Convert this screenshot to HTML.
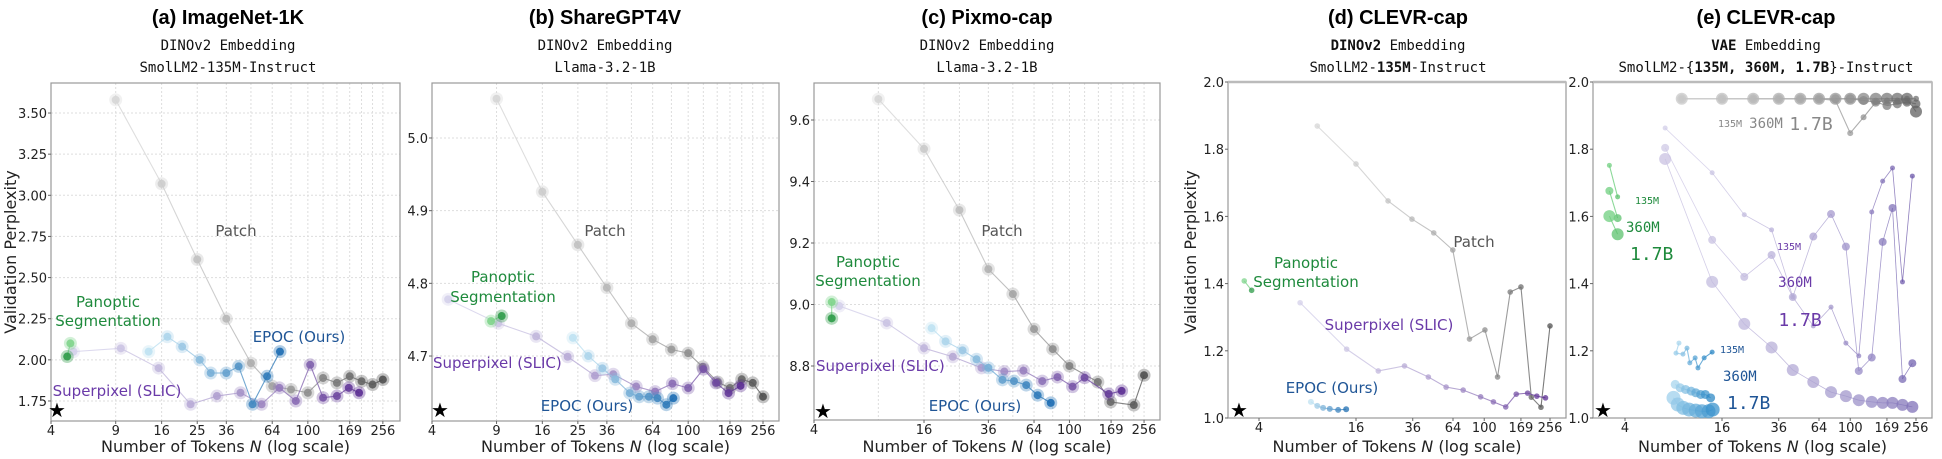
<!DOCTYPE html>
<html><head><meta charset="utf-8">
<style>
html,body{margin:0;padding:0;background:#fff;}
svg{display:block;}
.title{font-family:"Liberation Sans",sans-serif;font-weight:bold;font-size:20px;fill:#000;}
.sub{font-family:"DejaVu Sans Mono","Liberation Mono",monospace;font-size:14px;fill:#111;}
.tick{font-family:"DejaVu Sans","Liberation Sans",sans-serif;font-size:13px;fill:#222;}
.axl{font-family:"DejaVu Sans","Liberation Sans",sans-serif;font-size:16px;fill:#222;}
.lab{font-family:"DejaVu Sans","Liberation Sans",sans-serif;font-size:15px;}
.mono{font-family:"DejaVu Sans Mono","Liberation Mono",monospace;}
</style></head>
<body>
<svg id="fig" width="1942" height="459" viewBox="0 0 1942 459" xmlns="http://www.w3.org/2000/svg">
<text class="title" x="228" y="24" text-anchor="middle">(a) ImageNet-1K</text>
<text class="sub" x="228" y="50" text-anchor="middle">DINOv2 Embedding</text>
<text class="sub" x="228" y="72" text-anchor="middle">SmolLM2-135M-Instruct</text>
<text class="title" x="605" y="24" text-anchor="middle">(b) ShareGPT4V</text>
<text class="sub" x="605" y="50" text-anchor="middle">DINOv2 Embedding</text>
<text class="sub" x="605" y="72" text-anchor="middle">Llama-3.2-1B</text>
<text class="title" x="987" y="24" text-anchor="middle">(c) Pixmo-cap</text>
<text class="sub" x="987" y="50" text-anchor="middle">DINOv2 Embedding</text>
<text class="sub" x="987" y="72" text-anchor="middle">Llama-3.2-1B</text>
<text class="title" x="1398" y="24" text-anchor="middle">(d) CLEVR-cap</text>
<text class="sub" x="1398" y="50" text-anchor="middle"><tspan font-weight="bold">DINOv2</tspan> Embedding</text>
<text class="sub" x="1398" y="72" text-anchor="middle">SmolLM2-<tspan font-weight="bold">135M</tspan>-Instruct</text>
<text class="title" x="1766" y="24" text-anchor="middle">(e) CLEVR-cap</text>
<text class="sub" x="1766" y="50" text-anchor="middle"><tspan font-weight="bold">VAE</tspan> Embedding</text>
<text class="sub" x="1766" y="72" text-anchor="middle">SmolLM2-{<tspan font-weight="bold">135M, 360M, 1.7B</tspan>}-Instruct</text>
</svg>
<script>
// ---------- data ----------
const aPatchN=[9,16,25,36,49,64,81,100,121,144,169,196,225,256];
const aPatchV=[3.58,3.07,2.61,2.25,1.98,1.84,1.82,1.80,1.89,1.86,1.90,1.87,1.85,1.88];
const aSlicN=[5.3,9.6,15.4,23,32,43,56,70,86,103,121,144,167,190];
const aSlicV=[2.05,2.07,1.95,1.73,1.78,1.80,1.73,1.83,1.75,1.97,1.77,1.78,1.83,1.80];
const aEpocN=[13.6,17.2,20.7,25.8,29.6,36,42,50,60,70.5];
const aEpocV=[2.05,2.14,2.08,2.00,1.92,1.92,1.96,1.73,1.90,2.05];
const aPanN=[5.1,4.9];
const aPanV=[2.10,2.02];

const bPatchN=[9,16,25,36,49,64,81,100,120,145,169,196,225,256];
const bPatchV=[5.054,4.926,4.853,4.794,4.745,4.723,4.709,4.704,4.685,4.664,4.656,4.668,4.663,4.644];
const bSlicN=[4.9,9.2,14.8,22,31,39,52,66,82,100,121,142,166,193];
const bSlicV=[4.778,4.745,4.727,4.699,4.673,4.675,4.658,4.651,4.662,4.656,4.682,4.663,4.649,4.659];
const bEpocN=[23.5,28.5,34,40,48,54,61,68,76,83];
const bEpocV=[4.725,4.700,4.683,4.668,4.649,4.644,4.644,4.642,4.633,4.642];
const bPanN=[8.4,9.6];
const bPanV=[4.748,4.755];

const cPatchN=[9,16,25,36,49,64,81,100,143,168,225,256];
const cPatchV=[9.668,9.506,9.307,9.115,9.034,8.92,8.855,8.80,8.748,8.683,8.673,8.77];
const cSlicN=[5.5,10,16,23,33,44,56,71,86,104,121,164,193];
const cSlicV=[8.995,8.94,8.858,8.83,8.794,8.782,8.785,8.751,8.764,8.733,8.762,8.709,8.719];
const cEpocN=[17.6,21,26,31,36,43,49.7,58,67,79];
const cEpocV=[8.923,8.88,8.851,8.822,8.794,8.755,8.751,8.738,8.705,8.68];
const cPanN=[5.0,5.0];
const cPanV=[9.008,8.955];

const dPatchN=[9.2,16,25.3,35.6,48.6,63.8,81,101,121,145,169,196,225,256];
const dPatchV=[1.869,1.756,1.646,1.592,1.551,1.50,1.235,1.262,1.122,1.375,1.39,1.062,1.032,1.274];
const dSlicN=[7.2,14,22,32,45,58,74,95,114,136,158,186,212,240];
const dSlicV=[1.343,1.205,1.14,1.155,1.122,1.092,1.083,1.063,1.048,1.033,1.071,1.074,1.065,1.06];
const dEpocN=[8.4,9.2,10,11,12.4,13.9];
const dEpocV=[1.048,1.036,1.03,1.027,1.024,1.026];
const dPanN=[3.24,3.6];
const dPanV=[1.408,1.38];

const ePatchN=[9,16,25,36,49,64,81,100,121,144,169,196,225,256];
const ePatch135V=[1.95,1.95,1.95,1.95,1.95,1.95,1.945,1.848,1.895,1.94,1.945,1.945,1.95,1.95];
const ePatch360V=[1.95,1.95,1.95,1.95,1.95,1.95,1.95,1.95,1.945,1.94,1.93,1.935,1.94,1.935];
const ePatch17V=[1.95,1.95,1.95,1.95,1.95,1.95,1.95,1.95,1.95,1.95,1.95,1.95,1.95,1.912];
const eSlicN=[7.1,13.9,22,32.5,44,59,76,94,113,136,159,183,211,243];
const eSlic135V=[1.863,1.73,1.605,1.56,1.36,1.274,1.33,1.223,1.185,1.613,1.705,1.744,1.405,1.72];
const eSlic360V=[1.804,1.53,1.42,1.485,1.36,1.54,1.607,1.51,1.14,1.18,1.524,1.625,1.116,1.163];
const eSlic17V=[1.771,1.405,1.28,1.21,1.143,1.107,1.077,1.065,1.053,1.048,1.045,1.045,1.039,1.033];
const eEpoc135N=[8.65,8.29,9.16,9.7,10.1,10.9,11.35,12.4,13.9];
const eEpoc135V=[1.223,1.193,1.19,1.208,1.164,1.179,1.149,1.179,1.196];
const eEpoc360N=[8.2,8.8,9.5,10.3,11,11.8,12.6,13.6];
const eEpoc360V=[1.1,1.09,1.085,1.08,1.075,1.07,1.07,1.06];
const eEpoc17N=[8,8.5,9.2,10,11,12,13.2,14];
const eEpoc17V=[1.06,1.04,1.03,1.025,1.022,1.02,1.02,1.025];
const ePan135N=[3.2,3.6], ePan135V=[1.752,1.658];
const ePan360N=[3.2,3.6], ePan360V=[1.676,1.595];
const ePan17N=[3.2,3.6], ePan17V=[1.601,1.547];

const xTicksABC=[4,9,16,25,36,64,100,169,256];
const xTicksC=[4,16,36,64,100,169,256];
const xTicksDE=[4,16,36,64,100,169,256];
const xGridN=[4,9,16,25,36,49,64,81,100,121,144,169,196,225,256];
const aYTicks=[1.75,2.00,2.25,2.50,2.75,3.00,3.25,3.50];
const bYTicks=[4.7,4.8,4.9,5.0];
const cYTicks=[8.8,9.0,9.2,9.4,9.6];
const deYTicks=[1.0,1.2,1.4,1.6,1.8,2.0];

// ---------- drawing ----------
const svg=document.getElementById('fig');
const NS='http://www.w3.org/2000/svg';
function mk(tag,attrs,parent){const e=document.createElementNS(NS,tag);for(const k in attrs)e.setAttribute(k,attrs[k]);(parent||svg).appendChild(e);return e;}
function hex(c){return [parseInt(c.slice(1,3),16),parseInt(c.slice(3,5),16),parseInt(c.slice(5,7),16)];}
function lerp(c0,c1,t){const a=hex(c0),b=hex(c1);return 'rgb('+a.map((v,i)=>Math.round(v+(b[i]-v)*t)).join(',')+')';}

function panel(p){
  p.x=n=>p.L+(Math.log2(n)-p.lx0)/(p.lx1-p.lx0)*(p.R-p.L);
  p.y=v=>p.B-(v-p.y0)/(p.y1-p.y0)*(p.B-p.T);
  const g=mk('g',{});
  
  
  p.g=g;
  if(p.grid){
    xGridN.forEach(n=>{const l=mk('line',{x1:p.x(n),x2:p.x(n),y1:p.T,y2:p.B,stroke:'#ddd','stroke-width':1,'stroke-dasharray':'2,2'},g);
      });
    p.yt.forEach(v=>{const l=mk('line',{x1:p.L,x2:p.R,y1:p.y(v),y2:p.y(v),stroke:'#ddd','stroke-width':1,'stroke-dasharray':'2,2'},g);
      });
  }
  const fr=mk('rect',{x:p.L,y:p.T,width:p.R-p.L,height:p.B-p.T,fill:'none',stroke:'#999','stroke-width':1.2},g);
  
  if(p.topBar){const tb=mk('line',{x1:p.L,x2:p.R,y1:p.T,y2:p.T,stroke:'#bbb','stroke-width':2.5},g);
    }
  p.xt.forEach(n=>{const t=mk('text',{x:p.x(n),y:p.B+14,'text-anchor':'middle',class:'tick'},g);t.textContent=n;
    
    mk('line',{x1:p.x(n),x2:p.x(n),y1:p.B,y2:p.B+3,stroke:'#666'},g);});
  p.yt.forEach(v=>{const t=mk('text',{x:p.L-4,y:p.y(v)+5,'text-anchor':'end',class:'tick'},g);t.textContent=v.toFixed(p.dec);
    
    mk('line',{x1:p.L-3,x2:p.L,y1:p.y(v),y2:p.y(v),stroke:'#666'},g);});
  const xl=mk('text',{x:(p.L+p.R)/2,y:452,'text-anchor':'middle',class:'axl'},g);
  xl.innerHTML='Number of Tokens <tspan font-style="italic">N</tspan> (log scale)';
  
  if(p.ylab){const yl=mk('text',{x:0,y:0,'text-anchor':'middle',class:'axl',transform:'translate('+p.ylab+',252) rotate(-90)'},g);
    yl.textContent='Validation Perplexity';}
  const st=mk('text',{x:p.star[0],y:p.star[1]+7,'text-anchor':'middle','font-size':20,fill:'#000'},g);st.textContent='★';
  
  return p;
}
function series(p,name,N,V,c0,c1,r,halo,lw){
  const g=mk('g',{},p.g);
  
  
  for(let i=0;i<N.length-1;i++){
    const t=N.length>1?i/(N.length-1):0;
    mk('line',{x1:p.x(N[i]),y1:p.y(V[i]),x2:p.x(N[i+1]),y2:p.y(V[i+1]),stroke:lerp(c0,c1,t),'stroke-width':lw||1.1,opacity:0.8},g);
  }
  N.forEach((n,i)=>{
    const t=N.length>1?i/(N.length-1):0, col=lerp(c0,c1,t);
    if(halo){const h=mk('circle',{cx:p.x(n),cy:p.y(V[i]),r:r+2.5,fill:col,opacity:0.35},g);
      }
    const c=mk('circle',{cx:p.x(n),cy:p.y(V[i]),r:r,fill:col,opacity:halo?0.9:0.75},g);
    
  });
}
function label(p,txt,x,y,col,size,anchor,cls,name){
  const t=mk('text',{x:x,y:y,'text-anchor':anchor||'middle',class:cls||'lab',fill:col,'font-size':size||15},p.g);
  t.textContent=txt;
}
const GR0='#d6d6d6',GR1='#505050',PU0='#d4d0ea',PU1='#5b2e92',BL0='#bfe2f2',BL1='#1d6db2',GN0='#7fd48c',GN1='#2e9b48';
const cGreen='#1e8a3c',cPurple='#6a3aa8',cBlue='#1f5596',cGray='#555';

const A=panel({id:'a',L:51,R:400,T:83,B:421,lx0:2,lx1:8.31,y0:1.75-(421-401)/164.4,y1:3.5+(113-83)/164.4,xt:xTicksABC,yt:aYTicks,dec:2,grid:true,ylab:16,star:[57,410]});
series(A,'patch-series',aPatchN,aPatchV,GR0,GR1,4,true);
series(A,'superpixel-series',aSlicN,aSlicV,PU0,PU1,4,true);
series(A,'epoc-series',aEpocN,aEpocV,BL0,BL1,4,true);
series(A,'panoptic-series',aPanN,aPanV,GN0,GN1,4,true);
label(A,'Patch',236,236,cGray,17,'middle',null,'patch-label');
label(A,'Panoptic',108,307,cGreen,16,'middle',null,'panoptic-label');
label(A,'Segmentation',108,326,cGreen,16,'middle',null,'panoptic-label-2');
label(A,'EPOC (Ours)',299,342,cBlue,16,'middle',null,'epoc-label');
label(A,'Superpixel (SLIC)',117,396,cPurple,16,'middle',null,'superpixel-label');

const B=panel({id:'b',L:432,R:779,T:83,B:421,lx0:2,lx1:8.29,y0:4.7-(421-356)/727,y1:5.0+(138-83)/727,xt:xTicksABC,yt:bYTicks,dec:1,grid:true,star:[440,410]});
series(B,'patch-series',bPatchN,bPatchV,GR0,GR1,4,true);
series(B,'superpixel-series',bSlicN,bSlicV,PU0,PU1,4,true);
series(B,'epoc-series',bEpocN,bEpocV,BL0,BL1,4,true);
series(B,'panoptic-series',bPanN,bPanV,GN0,GN1,4,true);
label(B,'Patch',605,236,cGray,17,'middle',null,'patch-label');
label(B,'Panoptic',503,282,cGreen,16,'middle',null,'panoptic-label');
label(B,'Segmentation',503,302,cGreen,16,'middle',null,'panoptic-label-2');
label(B,'Superpixel (SLIC)',433,368,cPurple,16,'start',null,'superpixel-label');
label(B,'EPOC (Ours)',587,411,cBlue,16,'middle',null,'epoc-label');

const C=panel({id:'c',L:814,R:1160,T:83,B:420,lx0:2,lx1:8.29,y0:8.8-(420-366)/307.5,y1:9.6+(120-83)/307.5,xt:xTicksC,yt:cYTicks,dec:1,grid:true,star:[823,411]});
series(C,'patch-series',cPatchN,cPatchV,GR0,GR1,4,true);
series(C,'superpixel-series',cSlicN,cSlicV,PU0,PU1,4,true);
series(C,'epoc-series',cEpocN,cEpocV,BL0,BL1,4,true);
series(C,'panoptic-series',cPanN,cPanV,GN0,GN1,4,true);
label(C,'Patch',1002,236,cGray,17,'middle',null,'patch-label');
label(C,'Panoptic',868,267,cGreen,16,'middle',null,'panoptic-label');
label(C,'Segmentation',868,286,cGreen,16,'middle',null,'panoptic-label-2');
label(C,'Superpixel (SLIC)',816,371,cPurple,16,'start',null,'superpixel-label');
label(C,'EPOC (Ours)',975,411,cBlue,16,'middle',null,'epoc-label');

const D=panel({id:'d',L:1228,R:1566,T:82,B:418,lx0:2-31/48.5,lx1:2+307/48.5,y0:1.0,y1:2.0,xt:xTicksDE,yt:deYTicks,dec:1,grid:false,topBar:true,ylab:1196,star:[1239,410]});
series(D,'patch-series',dPatchN,dPatchV,GR0,GR1,2.8,false);
series(D,'superpixel-series',dSlicN,dSlicV,PU0,PU1,2.8,false);
series(D,'epoc-series',dEpocN,dEpocV,BL0,BL1,3,false);
series(D,'panoptic-series',dPanN,dPanV,GN0,GN1,2.8,false);
label(D,'Patch',1474,247,cGray,16,'middle',null,'patch-label');
label(D,'Panoptic',1306,268,cGreen,15,'middle',null,'panoptic-label');
label(D,'Segmentation',1306,287,cGreen,15,'middle',null,'panoptic-label-2');
label(D,'Superpixel (SLIC)',1389,330,cPurple,15,'middle',null,'superpixel-label');
label(D,'EPOC (Ours)',1332,393,cBlue,15,'middle',null,'epoc-label');

const E=panel({id:'e',L:1593,R:1932,T:82,B:418,lx0:2-32/48.5,lx1:2+307/48.5,y0:1.0,y1:2.0,xt:xTicksDE,yt:deYTicks,dec:1,grid:false,topBar:true,star:[1603,410]});
series(E,'patch-135m-series',ePatchN,ePatch135V,'#c8c8c8','#707070',3,false);
series(E,'patch-360m-series',ePatchN,ePatch360V,'#c8c8c8','#666666',4.5,false);
series(E,'patch-1.7b-series',ePatchN,ePatch17V,'#c8c8c8','#606060',6,false);
series(E,'superpixel-135m-series',eSlicN,eSlic135V,'#d2cde8','#6a55a8',2.5,false,0.8);
series(E,'superpixel-360m-series',eSlicN,eSlic360V,'#cfc9e6','#7363b0',4,false,0.8);
series(E,'superpixel-1.7b-series',eSlicN,eSlic17V,'#c9c2e2','#8072b8',6,false,0.8);
series(E,'epoc-135m-series',eEpoc135N,eEpoc135V,'#a8d6ee','#2a86c4',2.5,false);
series(E,'epoc-360m-series',eEpoc360N,eEpoc360V,'#a8d6ee','#2f8ac6',4.5,false);
series(E,'epoc-1.7b-series',eEpoc17N,eEpoc17V,'#9fd0ec','#3b93cc',7,false);
series(E,'panoptic-135m-series',ePan135N,ePan135V,'#6fcf7f','#5cc26e',2.5,false);
series(E,'panoptic-360m-series',ePan360N,ePan360V,'#6fcf7f','#5cc26e',4,false);
series(E,'panoptic-1.7b-series',ePan17N,ePan17V,'#6fcf7f','#5cc26e',6,false);
label(E,'135M',1730,127,'#888',10,'middle','mono','patch-135m-label');
label(E,'360M',1766,128,'#888',14,'middle','mono','patch-360m-label');
label(E,'1.7B',1811,130,'#888',18,'middle','mono','patch-1.7b-label');
label(E,'135M',1635,204,cGreen,10,'start','mono','panoptic-135m-label');
label(E,'360M',1626,232,cGreen,14,'start','mono','panoptic-360m-label');
label(E,'1.7B',1630,260,cGreen,18,'start','mono','panoptic-1.7b-label');
label(E,'135M',1789,250,cPurple,10,'middle','mono','superpixel-135m-label');
label(E,'360M',1795,287,cPurple,14,'middle','mono','superpixel-360m-label');
label(E,'1.7B',1800,326,cPurple,18,'middle','mono','superpixel-1.7b-label');
label(E,'135M',1720,353,cBlue,10,'start','mono','epoc-135m-label');
label(E,'360M',1723,381,cBlue,14,'start','mono','epoc-360m-label');
label(E,'1.7B',1727,409,cBlue,18,'start','mono','epoc-1.7b-label');
</script>
</body></html>
